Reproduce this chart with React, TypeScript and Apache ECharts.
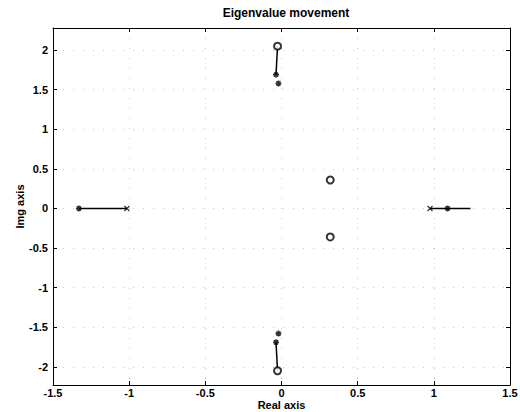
import React, { useEffect, useRef } from "react";
import * as echarts from "echarts";

const xTicks = [-1.5, -1, -0.5, 0, 0.5, 1, 1.5];
const yTicks = [-2, -1.5, -1, -0.5, 0, 0.5, 1, 1.5, 2];

// trajectories (eigenvalue movement paths)
const pathTop = [[-0.026, 2.05], [-0.036, 1.69]];
const pathBottom = [[-0.026, -2.05], [-0.036, -1.69]];
const pathLeft = [[-1.33, 0], [-1.015, 0]];
const pathRight = [[0.975, 0], [1.24, 0]];

// markers
const xMarks = [[-1.015, 0], [0.975, 0]];
const starMarks = [
  [-0.036, 1.69], [-0.02, 1.58],
  [-0.036, -1.69], [-0.02, -1.58],
  [-1.33, 0], [1.09, 0],
];
const circleMarks = [
  [-0.026, 2.05], [-0.026, -2.05],
  [0.32, 0.36], [0.32, -0.36],
];

const FONT = "'Liberation Sans', Arial, sans-serif";
const X_SYM = "path://M0,0L10,10M10,0L0,10";
const STAR_SYM = "path://M5,0L5,10M0,5L10,5M1.5,1.5L8.5,8.5M8.5,1.5L1.5,8.5";

export default function App() {
  const ref = useRef<HTMLDivElement>(null);
  useEffect(() => {
    if (!ref.current) return;
    const chart = echarts.init(ref.current, undefined, { renderer: "svg" });
    const lineStyle = { color: "#000", width: 1.5 };
    const splitLine = { show: true, lineStyle: { color: "#c8c8c8", type: [1, 9] as any, width: 1 } };
    const makeLine = (data: number[][]) => ({
      type: "line",
      data,
      showSymbol: false,
      symbol: "none",
      lineStyle,
      xAxisIndex: 0,
      yAxisIndex: 0,
      z: 2,
    });
    chart.setOption({
      animation: false,
      backgroundColor: "#fff",
      title: {
        text: "Eigenvalue movement",
        left: 281,
        top: 2,
        textAlign: "center",
        textStyle: { fontFamily: FONT, fontSize: 12, fontWeight: "bold", color: "#000" },
      },
      grid: { left: 53, right: 10, top: 28, bottom: 27, containLabel: false, outerBoundsMode: "none" },
      xAxis: [
        {
          type: "value",
          min: -1.5,
          max: 1.5,
          interval: 0.5,
          position: "bottom",
          name: "Real axis",
          nameLocation: "middle",
          nameGap: 14,
          nameMoveOverlap: false,
          nameTextStyle: { fontFamily: FONT, fontSize: 11, lineHeight: 11, fontWeight: "bold", color: "#000" },
          axisLine: { show: true, onZero: false, lineStyle: { color: "#000", width: 1 } },
          axisTick: { show: true, inside: true, length: 4, lineStyle: { color: "#000" } },
          axisLabel: {
            fontFamily: FONT, fontSize: 11, lineHeight: 11, fontWeight: "bold", color: "#000", margin: 2,
            formatter: (v: number) => String(v),
          },
          splitLine,
        },
        {
          type: "value",
          min: -1.5,
          max: 1.5,
          interval: 0.5,
          position: "top",
          axisLine: { show: true, onZero: false, lineStyle: { color: "#000", width: 1 } },
          axisTick: { show: true, inside: true, length: 4, lineStyle: { color: "#000" } },
          axisLabel: { show: false },
          splitLine: { show: false },
        },
      ],
      yAxis: [
        {
          type: "value",
          min: -2.23,
          max: 2.28,
          position: "left",
          name: "Img axis",
          nameLocation: "middle",
          nameGap: 28,
          nameMoveOverlap: false,
          nameRotate: 90,
          nameTextStyle: { fontFamily: FONT, fontSize: 11, fontWeight: "bold", color: "#000" },
          axisLine: { show: true, onZero: false, lineStyle: { color: "#000", width: 1 } },
          axisTick: { show: true, inside: true, length: 4, lineStyle: { color: "#000" }, customValues: yTicks },
          axisLabel: {
            fontFamily: FONT, fontSize: 11, fontWeight: "bold", color: "#000", margin: 5,
            customValues: yTicks,
            formatter: (v: number) => String(v),
          },
          splitLine,
        },
        {
          type: "value",
          min: -2.23,
          max: 2.28,
          position: "right",
          axisLine: { show: true, onZero: false, lineStyle: { color: "#000", width: 1 } },
          axisTick: { show: true, inside: true, length: 4, lineStyle: { color: "#000" }, customValues: yTicks },
          axisLabel: { show: false },
          splitLine: { show: false },
        },
      ],
      series: [
        makeLine(pathTop),
        makeLine(pathBottom),
        makeLine(pathLeft),
        makeLine(pathRight),
        {
          type: "scatter",
          data: xMarks,
          symbol: X_SYM,
          symbolSize: 5,
          itemStyle: { color: "none", borderColor: "#000", borderWidth: 1.2 },
          z: 3,
        },
        {
          type: "scatter",
          data: starMarks,
          symbol: STAR_SYM,
          symbolSize: 6,
          itemStyle: { color: "none", borderColor: "#000", borderWidth: 1.5 },
          z: 3,
        },
        {
          type: "scatter",
          data: circleMarks,
          symbol: "emptyCircle",
          symbolSize: 7,
          itemStyle: { color: "#000", borderColor: "#000", borderWidth: 1 },
          z: 4,
        },
      ],
    });
    return () => chart.dispose();
  }, []);
  return (
    <div
      ref={ref}
      style={{ position: "absolute", left: 0, top: 0, width: 520, height: 412 }}
    />
  );
}
